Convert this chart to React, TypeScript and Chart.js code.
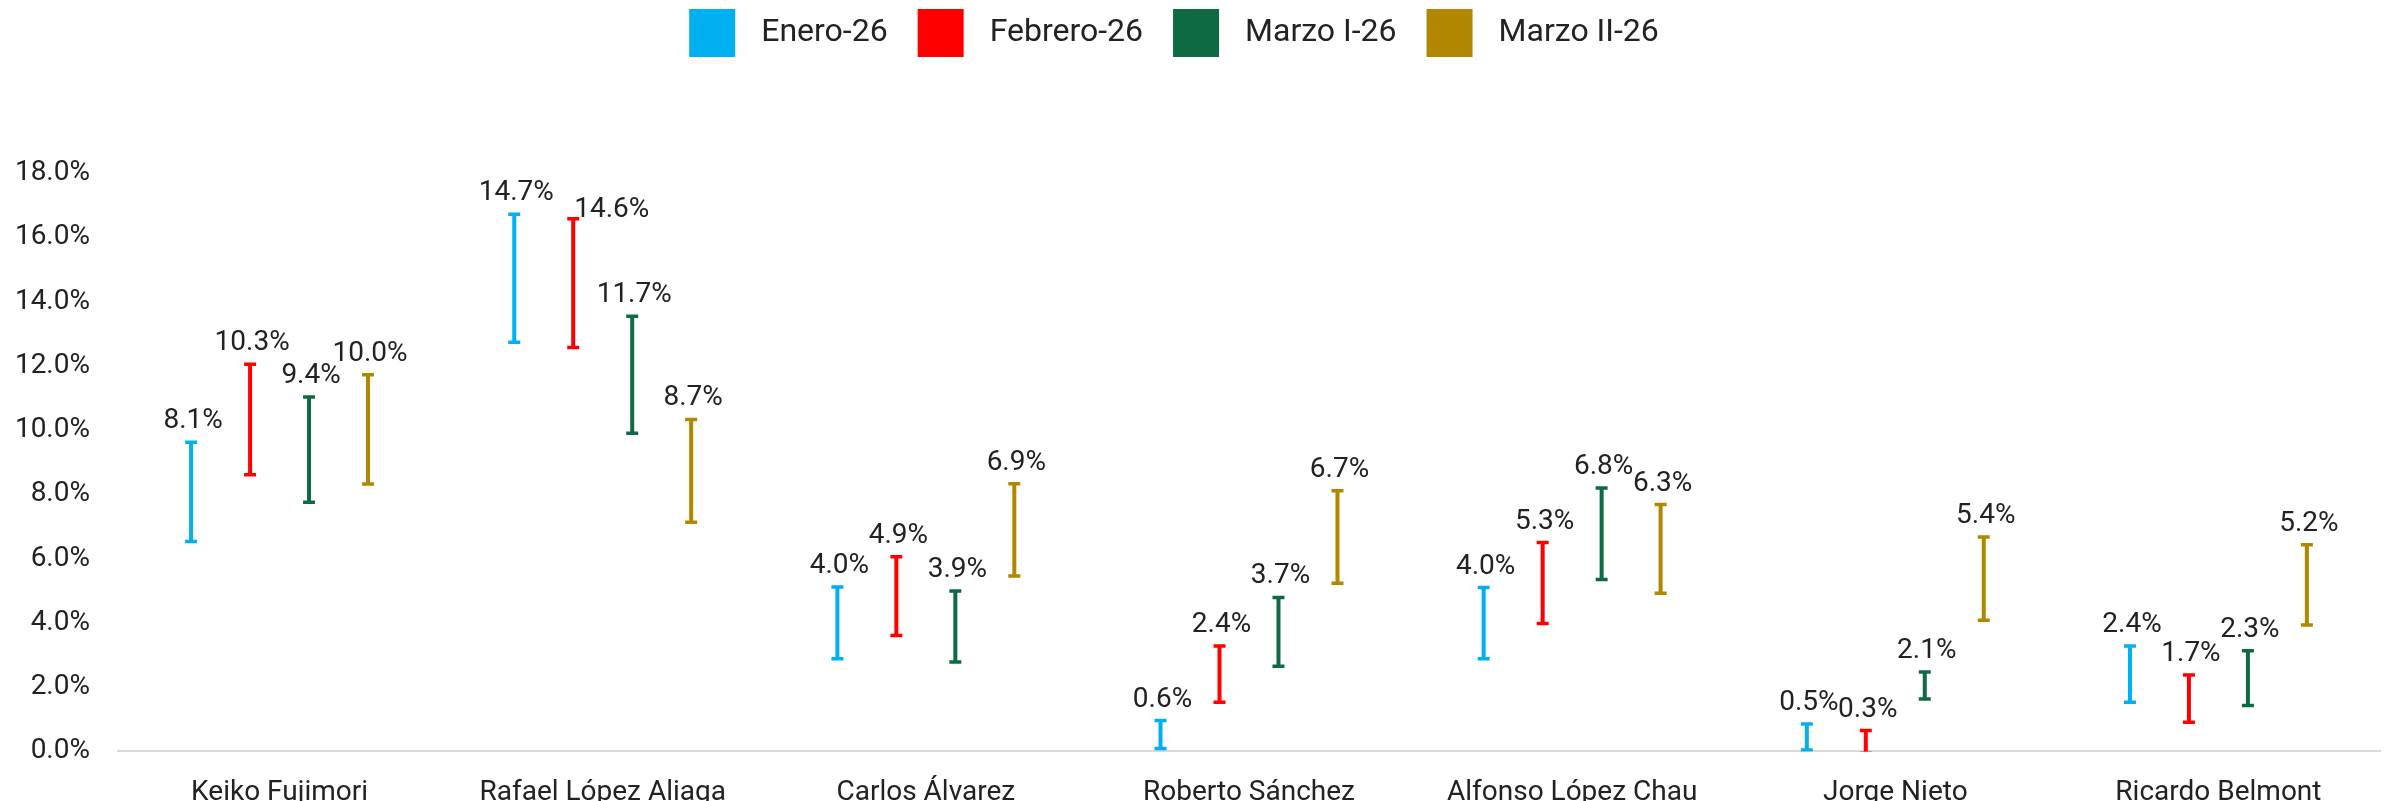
import React, { useEffect, useRef } from 'react';
import { Chart, registerables } from 'chart.js';

Chart.register(...registerables);

const categories = [
  'Keiko Fujimori',
  'Rafael López Aliaga',
  'Carlos Álvarez',
  'Roberto Sánchez',
  'Alfonso López Chau',
  'Jorge Nieto',
  'Ricardo Belmont',
];

const seriesNames = ['Enero-26', 'Febrero-26', 'Marzo I-26', 'Marzo II-26'];
const seriesColors = ['#00B0F0', '#FF0000', '#0E6A42', '#B38600'];

const eneroValue = [8.1, 14.7, 4.0, 0.6, 4.0, 0.5, 2.4];
const eneroLow = [6.53, 12.73, 2.88, 0.09, 2.88, 0.04, 1.53];
const eneroHigh = [9.62, 16.72, 5.12, 0.96, 5.1, 0.85, 3.28];

const febreroValue = [10.3, 14.6, 4.9, 2.4, 5.3, 0.3, 1.7];
const febreroLow = [8.61, 12.57, 3.61, 1.53, 3.98, -0.05, 0.91];
const febreroHigh = [12.05, 16.58, 6.06, 3.28, 6.5, 0.65, 2.38];

const marzoIValue = [9.4, 11.7, 3.9, 3.7, 6.8, 2.1, 2.3];
const marzoILow = [7.75, 9.9, 2.78, 2.65, 5.35, 1.63, 1.43];
const marzoIHigh = [11.03, 13.54, 4.99, 4.79, 8.2, 2.47, 3.13];

const marzoIIValue = [10.0, 8.7, 6.9, 6.7, 6.3, 5.4, 5.2];
const marzoIILow = [8.32, 7.13, 5.46, 5.23, 4.92, 4.08, 3.93];
const marzoIIHigh = [11.72, 10.33, 8.33, 8.11, 7.68, 6.67, 6.43];

const yMin = 0;
const yMax = 18;
const yStep = 2;

const FONT = 'Roboto';
const TEXT_COLOR = '#222222';

// Legend drawn from the chart's own datasets (labels + colours)
const topLegend = {
  id: 'topLegend',
  afterDraw(chart: any) {
    const { ctx } = chart;
    const boxW = 46;
    const boxH = 48;
    const gap = 26;
    const spacing = 30;
    const top = 1;
    ctx.save();
    ctx.font = `32px ${FONT}`;
    const items = chart.data.datasets.map((ds: any) => ({
      text: ds.label,
      color: ds.backgroundColor,
      w: ctx.measureText(ds.label).width,
    }));
    const total =
      items.reduce((s: number, it: any) => s + boxW + gap + it.w, 0) + spacing * (items.length - 1);
    let x = chart.width / 2 - 22 - total / 2;
    ctx.textBaseline = 'middle';
    ctx.textAlign = 'left';
    items.forEach((it: any) => {
      ctx.fillStyle = it.color;
      ctx.fillRect(x, top, boxW, boxH);
      ctx.fillStyle = TEXT_COLOR;
      ctx.fillText(it.text, x + boxW + gap, top + boxH / 2);
      x += boxW + gap + it.w + spacing;
    });
    ctx.restore();
  },
};

const errorBars = {
  id: 'errorBars',
  afterDatasetsDraw(chart: any) {
    const { ctx, chartArea } = chart;
    ctx.save();
    ctx.beginPath();
    ctx.rect(chartArea.left, chartArea.top, chartArea.right - chartArea.left, chartArea.bottom - chartArea.top);
    ctx.clip();
    chart.data.datasets.forEach((ds: any, di: number) => {
      const meta = chart.getDatasetMeta(di);
      ctx.strokeStyle = ds.backgroundColor;
      ctx.lineWidth = 3.5;
      meta.data.forEach((el: any) => {
        const { x, y, base } = el.getProps(['x', 'y', 'base'], true);
        ctx.beginPath();
        ctx.moveTo(x - 6, y);
        ctx.lineTo(x + 6, y);
        ctx.moveTo(x - 6, base);
        ctx.lineTo(x + 6, base);
        ctx.stroke();
      });
    });
    ctx.restore();

    ctx.save();
    ctx.font = `28px ${FONT}`;
    ctx.fillStyle = TEXT_COLOR;
    ctx.textBaseline = 'alphabetic';
    ctx.textAlign = 'left';
    const capH = 20;
    for (let j = 0; j < chart.data.labels.length; j++) {
      const placed: { l: number; r: number; t: number; b: number }[] = [];
      chart.data.datasets.forEach((ds: any, di: number) => {
        const meta = chart.getDatasetMeta(di);
        const el = meta.data[j];
        if (!el) return;
        const { x, y } = el.getProps(['x', 'y'], true);
        const text = ds.values[j].toFixed(1) + '%';
        const w = ctx.measureText(text).width;
        const cx = x + 2;
        let baseY = y - 14;
        let box = { l: cx - w / 2, r: cx + w / 2, t: baseY - capH, b: baseY };
        const hit = placed.some(
          (p) => Math.min(p.r, box.r) - Math.max(p.l, box.l) > 2 && Math.min(p.b, box.b) - Math.max(p.t, box.t) > 0
        );
        if (hit) {
          baseY = y - 2;
          box = { l: x + 1, r: x + 1 + w, t: baseY - capH, b: baseY };
        }
        ctx.fillText(text, box.l, baseY);
        placed.push(box);
      });
    }
    ctx.restore();
  },
};

export default function App() {
  const ref = useRef<HTMLCanvasElement>(null);

  useEffect(() => {
    document.documentElement.style.overflow = 'hidden';
    document.body.style.overflow = 'hidden';
    const series = [
      { values: eneroValue, low: eneroLow, high: eneroHigh },
      { values: febreroValue, low: febreroLow, high: febreroHigh },
      { values: marzoIValue, low: marzoILow, high: marzoIHigh },
      { values: marzoIIValue, low: marzoIILow, high: marzoIIHigh },
    ];
    const chart = new Chart(ref.current as HTMLCanvasElement, {
      type: 'bar',
      data: {
        labels: categories,
        datasets: series.map((s, i) => ({
          label: seriesNames[i],
          data: s.low.map((l, k) => [l, s.high[k]]),
          values: s.values,
          backgroundColor: seriesColors[i],
          borderWidth: 0,
          maxBarThickness: 4,
          categoryPercentage: 0.73,
          barPercentage: 1,
          clip: 0,
        })) as any,
      },
      options: {
        animation: false,
        responsive: true,
        maintainAspectRatio: false,
        layout: { padding: { top: 165, right: 4, bottom: -27, left: 0 } },
        plugins: {
          tooltip: { enabled: false },
          legend: { display: false },
        },
        scales: {
          x: {
            z: 1,
            grid: { display: false, drawTicks: false },
            border: { display: true, color: '#D9D9D9', width: 2 },
            ticks: {
              color: TEXT_COLOR,
              font: { size: 28, family: FONT },
              padding: 25,
              maxRotation: 0,
              autoSkip: false,
            },
          },
          y: {
            min: yMin,
            max: yMax,
            grid: { display: false, drawTicks: false },
            border: { display: false },
            afterFit: (scale: any) => {
              scale.width = 110;
            },
            ticks: {
              stepSize: yStep,
              color: TEXT_COLOR,
              font: { size: 28, family: FONT },
              padding: 28,
              callback: (v: any) => Number(v).toFixed(1) + '%',
            },
          },
        },
      },
      plugins: [errorBars, topLegend],
    });
    return () => chart.destroy();
  }, []);

  return (
    <div style={{ position: 'relative', width: '2376px', height: '800px' }}>
      <canvas ref={ref} />
    </div>
  );
}
